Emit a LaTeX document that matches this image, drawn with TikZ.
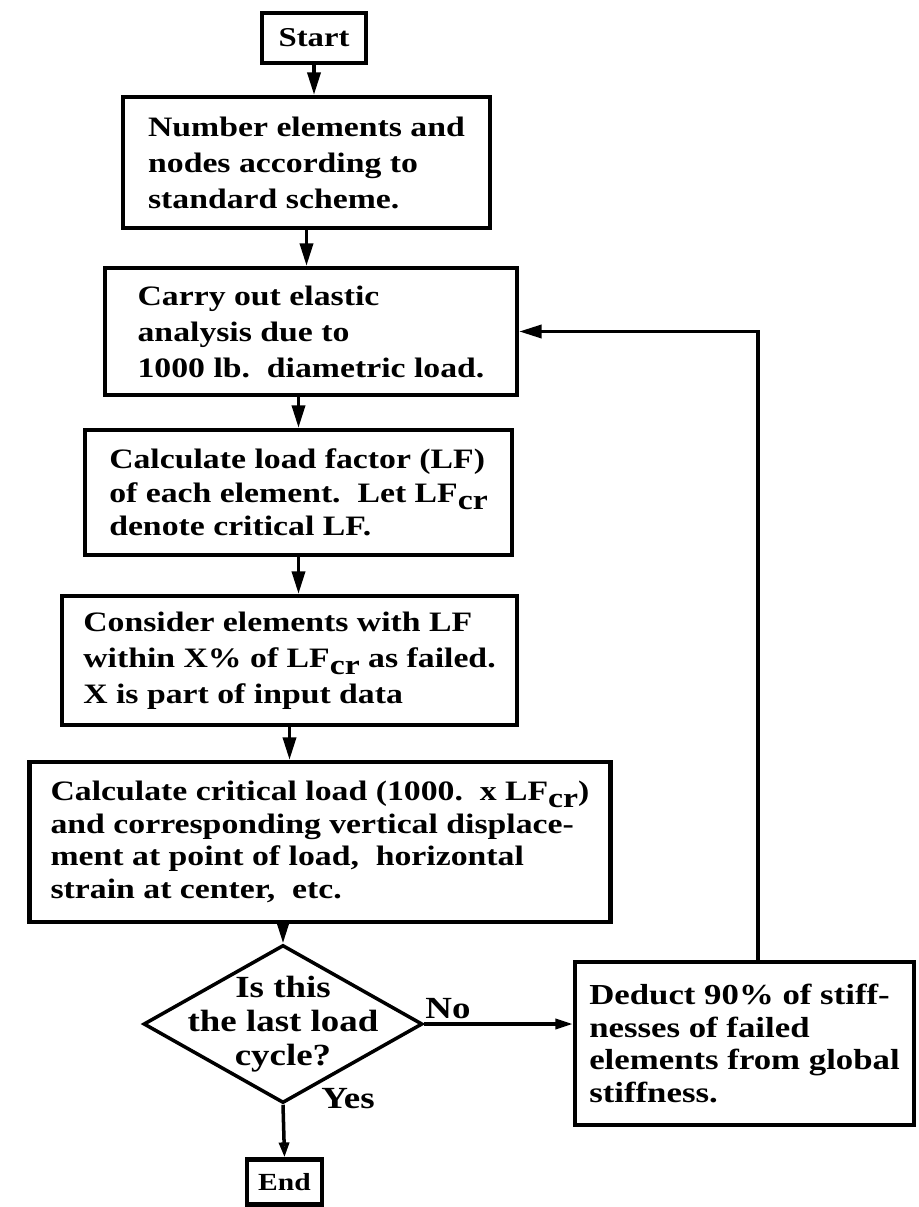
\documentclass[tikz,border=0pt]{standalone}
\usepackage{fontspec}
\setmainfont{Liberation Serif}[FakeStretch=1.2]
\usetikzlibrary{arrows.meta,shapes.geometric}
\newcommand{\crsub}{\raisebox{-.55ex}{cr}}
\begin{document}
\begin{tikzpicture}[font=\bfseries\fontsize{16}{20.5}\selectfont,>={Triangle[length=4.5mm,width=2.6mm]},line width=2pt,
  blk/.style={draw,line width=2.4pt,align=left,inner sep=0pt},
  dec/.style={draw,diamond,line width=2pt,minimum width=5.58cm,minimum height=3.16cm,inner sep=0pt},
  lbl/.style={inner sep=0pt,font=\bfseries\fontsize{17.5}{19.3}\selectfont}]
\useasboundingbox (0,0) rectangle (18.36,-24.14);
\node[blk,align=center,minimum width=2.08cm,minimum height=1cm,font=\bfseries\fontsize{15.5}{18}\selectfont] (st) at (6.28,-.76) {Start};
\node[blk,minimum width=7.34cm,minimum height=2.62cm] (num) at (6.13,-3.25) {Number elements and\\nodes according to\\standard scheme.};
\node[blk,minimum width=8.24cm,minimum height=2.54cm] (ana) at (6.22,-6.63) {Carry out elastic\\analysis due to\\1000 lb.\ \ diametric load.};
\node[blk,minimum width=8.54cm,minimum height=2.5cm,font=\bfseries\fontsize{16}{19}\selectfont] (lf) at (5.97,-9.85) {Calculate load factor (LF)\\of each element.\ \ Let LF\crsub\\denote critical LF.};
\node[blk,minimum width=9.1cm,minimum height=2.58cm] (fail) at (5.79,-13.21) {Consider elements with LF\\within X\% of LF\crsub{} as failed.\\X is part of input data};
\node[blk,minimum width=11.62cm,minimum height=3.2cm,font=\bfseries\fontsize{16}{18.5}\selectfont] (crit) at (6.4,-16.84) {Calculate critical load (1000.\ \ x LF\crsub)\\and corresponding vertical displace-\\ment at point of load,\ \ horizontal\\strain at center,\ \ etc.};
\node[dec] (last) at (5.66,-20.48) {};
\node[lbl,align=center] (lastq) at (last.center) {Is this\\the last load\\cycle?};
\node[blk,minimum width=6.78cm,minimum height=3.26cm,font=\bfseries\fontsize{16.5}{18.5}\selectfont] (ded) at (14.89,-20.87) {Deduct 90\% of stiff-\\nesses of failed\\elements from global\\stiffness.};
\node[blk,align=center,minimum width=1.5cm,minimum height=.9cm,font=\bfseries\fontsize{14}{16}\selectfont] (en) at (5.69,-23.64) {End};
\node[lbl] (no) at (8.96,-20.18) {No};
\node[lbl] (yes) at (6.96,-21.98) {Yes};
\draw[->] (st.south) -- (st.south |- num.north);
\draw[->] (num.south) -- (num.south |- ana.north);
\draw[->] (lf.north |- ana.south) -- (lf.north);
\draw[->] (lf.south) -- (lf.south |- fail.north);
\draw[->] (fail.south) -- (fail.south |- crit.north);
\draw[->] (last.north |- crit.south) -- (last.north);
\draw[-{Triangle[length=3.5mm,width=2mm]}] (last.east) -- (last.east -| ded.west);
\draw[-{Triangle[open,length=3mm,width=2mm]}] (last.south) -- (en.north);
\draw[->] ([xshift=.27cm]ded.north) |- (ana.east);
\end{tikzpicture}
\end{document}
